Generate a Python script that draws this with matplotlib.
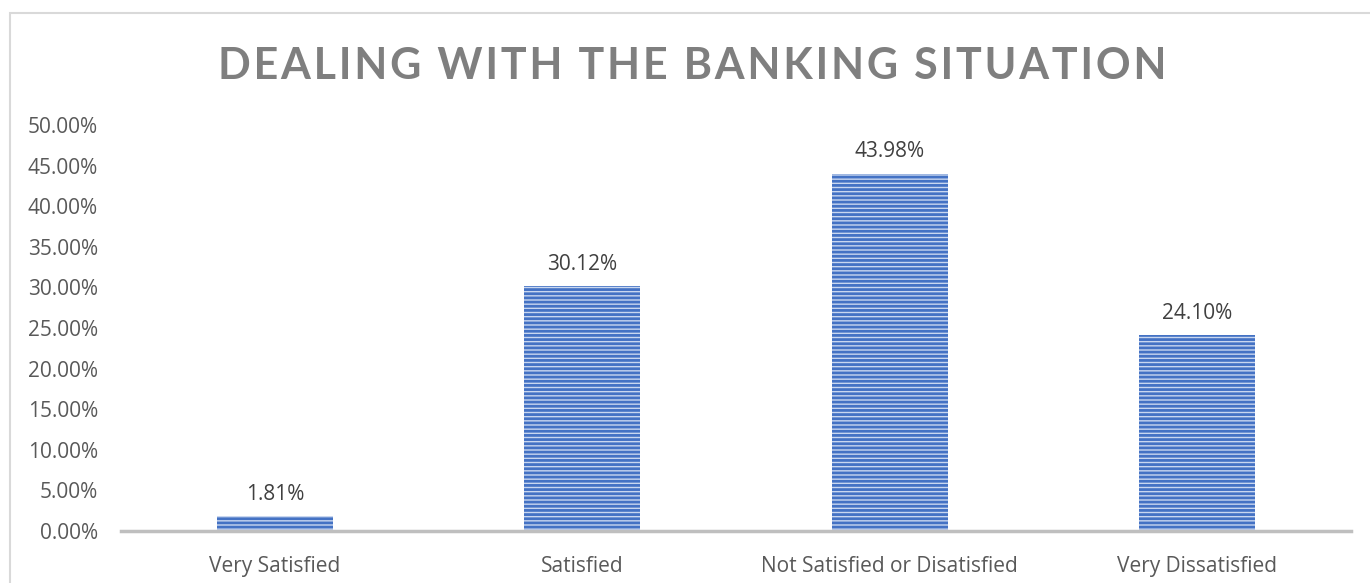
import matplotlib.pyplot as plt
from matplotlib.patches import Rectangle
from matplotlib.ticker import FuncFormatter

categories = ['Very Satisfied', 'Satisfied', 'Not Satisfied or Disatisfied', 'Very Dissatisfied']
values = [1.81, 30.12, 43.98, 24.10]
yticks = [0, 5, 10, 15, 20, 25, 30, 35, 40, 45, 50]
title = 'DEALING WITH THE BANKING SITUATION'

plt.rcParams['font.family'] = ['Open Sans', 'DejaVu Sans']
plt.rcParams['hatch.linewidth'] = 2.0

fig = plt.figure(figsize=(13.7, 5.83), dpi=100)
# chart area border (cut off on right and bottom like the original)
fig.patches.append(Rectangle((10 / 1370, -0.1), 1.2, 1 - 13 / 583 + 0.1,
                             transform=fig.transFigure, fill=False,
                             edgecolor='#d9d9d9', lw=1.5))

ax = fig.add_axes([121 / 1370, 1 - 531 / 583, (1351 - 121) / 1370, (531 - 125) / 583])
x = range(len(categories))
bars = ax.bar(x, values, width=0.377, color='#c9d7f0', edgecolor='#4472c4',
              hatch='----', lw=0)

for b, v in zip(bars, values):
    ax.annotate(f'{v:.2f}%', (b.get_x() + b.get_width() / 2, v),
                xytext=(0, 16), textcoords='offset points',
                ha='center', va='center', fontsize=15, color='#404040')

ax.set_xlim(-0.5, len(categories) - 0.5)
ax.set_ylim(0, 50)
ax.set_yticks(yticks)
ax.yaxis.set_major_formatter(FuncFormatter(lambda v, p: f'{v:.2f}%'))
ax.set_xticks(list(x))
ax.set_xticklabels(categories)
ax.tick_params(axis='both', length=0, labelsize=15, labelcolor='#595959')
ax.tick_params(axis='y', pad=16.5)
ax.tick_params(axis='x', pad=18)

for s in ['top', 'right', 'left']:
    ax.spines[s].set_visible(False)
ax.spines['bottom'].set_color('#bfbfbf')
ax.spines['bottom'].set_linewidth(2.5)

# letter-spaced title, as in the original
spaced = '\u200a'.join(title)
fig.text(0.505, 1 - 66 / 583, spaced, ha='center', va='center',
         fontsize=31, fontweight='bold', color='#7f7f7f',
         family=['Lato', 'DejaVu Sans'])

fig.savefig('out.png', dpi=100)
